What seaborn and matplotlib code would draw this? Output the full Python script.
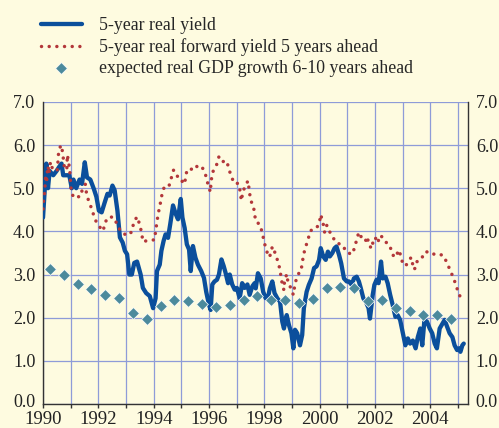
import matplotlib
matplotlib.use("Agg")
import matplotlib.pyplot as plt
import matplotlib.transforms as mtransforms
import seaborn as sns
import pandas as pd

# 5-year real yield
yield_year = [1990.00, 1990.12, 1990.18, 1990.24, 1990.37, 1990.49, 1990.59, 1990.67, 1990.73, 1990.86,
              1990.95, 1991.04, 1991.10, 1991.20, 1991.32, 1991.41, 1991.51, 1991.59, 1991.71, 1991.84,
              1991.93, 1992.02, 1992.12, 1992.23, 1992.33, 1992.41, 1992.51, 1992.59, 1992.69, 1992.78,
              1992.88, 1992.96, 1993.04, 1993.12, 1993.21, 1993.30, 1993.40, 1993.53, 1993.61, 1993.73,
              1993.86, 1993.98, 1994.07, 1994.12, 1994.22, 1994.28, 1994.36, 1994.43, 1994.52, 1994.60,
              1994.70, 1994.80, 1994.88, 1994.98, 1995.04, 1995.12, 1995.20, 1995.28, 1995.34, 1995.42,
              1995.51, 1995.60, 1995.72, 1995.82, 1995.90, 1996.00, 1996.06, 1996.12, 1996.20, 1996.29,
              1996.36, 1996.45, 1996.53, 1996.60, 1996.69, 1996.75, 1996.84, 1996.93, 1997.01, 1997.11,
              1997.20, 1997.29, 1997.39, 1997.47, 1997.57, 1997.65, 1997.69, 1997.77, 1997.87, 1997.96,
              1998.05, 1998.13, 1998.20, 1998.29, 1998.37, 1998.47, 1998.57, 1998.65, 1998.71, 1998.81,
              1998.89, 1998.98, 1999.05, 1999.11, 1999.19, 1999.29, 1999.37, 1999.43, 1999.53, 1999.61,
              1999.71, 1999.80, 1999.89, 1999.98, 2000.04, 2000.13, 2000.22, 2000.30, 2000.37, 2000.46,
              2000.54, 2000.61, 2000.70, 2000.78, 2000.88, 2000.98, 2001.06, 2001.16, 2001.24, 2001.34,
              2001.42, 2001.49, 2001.58, 2001.67, 2001.77, 2001.82, 2001.92, 2001.98, 2002.06, 2002.13,
              2002.22, 2002.28, 2002.38, 2002.46, 2002.55, 2002.64, 2002.74, 2002.82, 2002.91, 2003.01,
              2003.10, 2003.19, 2003.27, 2003.37, 2003.47, 2003.55, 2003.64, 2003.71, 2003.79, 2003.88,
              2003.98, 2004.07, 2004.16, 2004.24, 2004.34, 2004.44, 2004.52, 2004.61, 2004.70, 2004.80,
              2004.88, 2004.97, 2005.04, 2005.09, 2005.16, 2005.21]
yield_val = [4.32, 5.57, 5.00, 5.40, 5.30, 5.40, 5.50, 5.57, 5.30, 5.30,
             5.30, 5.00, 5.20, 5.00, 5.20, 5.10, 5.60, 5.25, 5.20, 4.98,
             4.80, 4.48, 4.44, 4.67, 4.87, 4.83, 5.06, 4.95, 4.48, 3.86,
             3.74, 3.55, 3.47, 3.00, 3.00, 3.27, 3.30, 3.00, 2.69, 2.57,
             2.50, 2.22, 2.45, 3.08, 3.23, 3.55, 3.78, 3.93, 3.85, 4.17,
             4.60, 4.40, 4.28, 4.75, 4.32, 4.08, 3.70, 3.58, 3.08, 3.66,
             3.39, 3.23, 3.08, 2.92, 2.60, 2.30, 2.18, 2.77, 2.84, 2.88,
             3.00, 3.35, 3.20, 3.04, 2.80, 3.00, 2.77, 2.65, 2.69, 2.45,
             2.80, 2.69, 2.77, 2.53, 2.73, 2.80, 2.68, 3.03, 2.91, 2.60,
             2.45, 2.45, 2.68, 2.84, 2.57, 2.45, 2.37, 1.91, 1.75, 2.06,
             1.83, 1.64, 1.29, 1.72, 1.64, 1.36, 1.60, 2.22, 2.60, 2.76,
             2.91, 3.15, 3.19, 3.34, 3.61, 3.42, 3.34, 3.53, 3.42, 3.50,
             3.61, 3.65, 3.46, 3.26, 2.91, 2.84, 2.84, 2.76, 2.91, 2.95,
             2.84, 2.68, 2.45, 2.37, 2.22, 1.98, 2.53, 2.76, 2.88, 2.80,
             3.30, 2.91, 2.95, 2.80, 2.53, 2.30, 2.02, 2.06, 1.95, 1.64,
             1.36, 1.52, 1.40, 1.47, 1.29, 1.55, 1.75, 1.36, 1.95, 1.91,
             1.75, 1.64, 1.40, 1.29, 1.75, 1.86, 1.95, 1.79, 1.64, 1.55,
             1.36, 1.25, 1.29, 1.21, 1.36, 1.40]

# 5-year real forward yield 5 years ahead
fwd_year = [1990.00, 1990.02, 1990.06, 1990.08, 1990.10, 1990.13, 1990.15, 1990.18, 1990.22, 1990.27,
            1990.34, 1990.43, 1990.51, 1990.54, 1990.56, 1990.64, 1990.71, 1990.74, 1990.77, 1990.86,
            1990.88, 1990.91, 1990.93, 1990.96, 1990.98, 1991.00, 1991.04, 1991.10, 1991.16, 1991.32,
            1991.44, 1991.53, 1991.57, 1991.65, 1991.77, 1991.86, 1991.98, 1992.18, 1992.23, 1992.39,
            1992.57, 1992.69, 1992.82, 1993.04, 1993.21, 1993.28, 1993.40, 1993.50, 1993.57, 1993.61,
            1993.73, 1993.92, 1994.04, 1994.07, 1994.12, 1994.16, 1994.22, 1994.28, 1994.34, 1994.40,
            1994.55, 1994.64, 1994.72, 1994.84, 1994.96, 1995.08, 1995.16, 1995.20, 1995.30, 1995.42,
            1995.52, 1995.64, 1995.76, 1995.88, 1995.96, 1996.05, 1996.08, 1996.14, 1996.27, 1996.36,
            1996.48, 1996.57, 1996.65, 1996.72, 1996.81, 1996.89, 1996.99, 1997.08, 1997.13, 1997.17,
            1997.23, 1997.35, 1997.41, 1997.49, 1997.57, 1997.61, 1997.69, 1997.84, 1997.93, 1997.99,
            1998.07, 1998.17, 1998.23, 1998.29, 1998.41, 1998.49, 1998.57, 1998.61, 1998.67, 1998.71,
            1998.73, 1998.81, 1998.86, 1998.89, 1998.98, 1999.05, 1999.10, 1999.17, 1999.25, 1999.31,
            1999.37, 1999.41, 1999.49, 1999.58, 1999.67, 1999.83, 1999.98, 2000.04, 2000.13, 2000.18,
            2000.25, 2000.30, 2000.34, 2000.46, 2000.61, 2000.82, 2000.98, 2001.18, 2001.30, 2001.34,
            2001.43, 2001.53, 2001.65, 2001.73, 2001.77, 2001.89, 2001.94, 2002.01, 2002.10, 2002.18,
            2002.28, 2002.38, 2002.46, 2002.55, 2002.62, 2002.70, 2002.76, 2002.85, 2002.95, 2003.01,
            2003.13, 2003.27, 2003.31, 2003.37, 2003.43, 2003.49, 2003.67, 2003.79, 2004.00, 2004.16,
            2004.32, 2004.48, 2004.61, 2004.74, 2004.85, 2004.95, 2005.03, 2005.13]
fwd_val = [4.52, 4.71, 4.91, 5.10, 5.31, 5.12, 5.34, 5.51, 5.34, 5.61,
           5.45, 5.43, 5.40, 5.61, 5.80, 6.00, 5.84, 5.65, 5.49, 5.42,
           5.77, 5.66, 5.57, 5.45, 5.30, 5.06, 4.87, 4.81, 4.85, 4.79,
           4.99, 5.09, 4.89, 4.70, 4.51, 4.31, 4.15, 4.01, 4.20, 4.34,
           4.32, 4.14, 3.99, 3.90, 3.99, 4.21, 4.34, 4.15, 3.95, 3.76,
           3.78, 3.79, 3.81, 4.01, 4.21, 4.40, 4.57, 4.79, 4.96, 5.04,
           5.04, 5.24, 5.42, 5.28, 5.26, 5.09, 5.22, 5.43, 5.43, 5.45,
           5.53, 5.45, 5.48, 5.30, 5.10, 4.91, 5.18, 5.38, 5.53, 5.73,
           5.61, 5.63, 5.63, 5.42, 5.30, 5.12, 5.12, 5.10, 4.91, 4.71,
           4.93, 5.10, 5.17, 4.79, 4.60, 4.57, 4.23, 4.16, 3.96, 3.77,
           3.57, 3.40, 3.47, 3.65, 3.47, 3.30, 3.11, 2.91, 2.72, 2.64,
           2.84, 3.01, 2.81, 2.80, 2.64, 2.53, 2.74, 2.93, 3.03, 3.05,
           3.24, 3.44, 3.63, 3.81, 4.02, 4.04, 4.16, 4.39, 4.17, 3.98,
           4.14, 4.12, 4.02, 3.88, 3.73, 3.69, 3.51, 3.47, 3.69, 3.84,
           3.98, 3.83, 3.77, 3.88, 3.69, 3.60, 3.81, 3.86, 3.73, 3.91,
           3.86, 3.75, 3.73, 3.65, 3.47, 3.42, 3.40, 3.57, 3.42, 3.22,
           3.22, 3.36, 3.40, 3.22, 3.11, 3.29, 3.34, 3.52, 3.53, 3.46,
           3.47, 3.44, 3.26, 3.07, 2.90, 2.72, 2.53, 2.47]

# expected real GDP growth 6-10 years ahead (semi-annual survey)
gdp_year = [1990.25, 1990.75, 1991.25, 1991.75, 1992.25, 1992.75, 1993.25, 1993.75, 1994.25, 1994.75,
            1995.25, 1995.75, 1996.25, 1996.75, 1997.25, 1997.75, 1998.25, 1998.75, 1999.25, 1999.75,
            2000.25, 2000.75, 2001.25, 2001.75, 2002.25, 2002.75, 2003.25, 2003.75, 2004.25, 2004.75]
gdp_val = [3.12, 2.98, 2.77, 2.67, 2.52, 2.46, 2.12, 1.96, 2.26, 2.40,
           2.39, 2.32, 2.25, 2.30, 2.42, 2.51, 2.40, 2.40, 2.34, 2.43,
           2.69, 2.71, 2.69, 2.39, 2.41, 2.22, 2.15, 2.07, 2.07, 1.97]

year_ticks = list(range(1990, 2006))
year_labels = [str(y) if y % 2 == 0 else "" for y in year_ticks]
val_ticks = [0, 1, 2, 3, 4, 5, 6, 7]
val_labels = ["0.0", "1.0", "2.0", "3.0", "4.0", "5.0", "6.0", "7.0"]

labels = ["5-year real yield",
          "5-year real forward yield 5 years ahead",
          "expected real GDP growth 6-10 years ahead"]

bg = "#fefbe0"
sns.set_style("white", {"axes.facecolor": bg, "figure.facecolor": bg})
plt.rcParams["font.family"] = ["Liberation Serif", "DejaVu Serif"]

fig = plt.figure(figsize=(4.99, 4.28), dpi=100)
ax = fig.add_axes([0.0862, 0.056, 0.852, 0.706])

df_y = pd.DataFrame({"year": yield_year, "val": yield_val})
df_f = pd.DataFrame({"year": fwd_year, "val": fwd_val})
df_g = pd.DataFrame({"year": gdp_year, "val": gdp_val})

sns.lineplot(data=df_y, x="year", y="val", ax=ax, color="#0b4f9c", linewidth=3.1,
             estimator=None, sort=False, label=labels[0], zorder=3)
# dotted line: round dots spaced along the path
sns.lineplot(data=df_f, x="year", y="val", ax=ax, color="#b3373a", linewidth=2.5,
             linestyle=(0, (0.01, 2.2)), dash_capstyle="round",
             estimator=None, sort=False, label=labels[1], zorder=4)
sns.scatterplot(data=df_g, x="year", y="val", ax=ax, color="#4c8a9c", marker="D", s=36,
                edgecolor="white", linewidth=0.5, label=labels[2], zorder=5)

ax.set_xlim(1990, 2005.37)
ax.set_ylim(0, 7)
ax.set_xticks(year_ticks)
ax.set_xticklabels(year_labels)
ax.set_yticks(val_ticks)
ax.set_yticklabels(val_labels)
ax.set_xlabel("")
ax.set_ylabel("")
ax.grid(True, color="#8e9bd8", linewidth=0.9)
ax.set_axisbelow(True)

for side in ["left", "right", "bottom"]:
    ax.spines[side].set_visible(True)
    ax.spines[side].set_color("#333333")
    ax.spines[side].set_linewidth(1.0)
ax.spines["top"].set_visible(False)

ax.tick_params(axis="x", bottom=True, direction="out", length=3, width=1, color="#333333",
               labelsize=13.5, pad=2, labelcolor="#222222")
ax.tick_params(axis="y", left=False, right=False, labelleft=True, labelright=True,
               labelsize=13, pad=2, labelcolor="#222222")

# the 0.0 labels sit a few pixels above the axis line, clear of the year labels
lift = mtransforms.ScaledTranslation(0, 4 / 100, fig.dpi_scale_trans)
for tick in ax.yaxis.get_major_ticks()[:1]:
    tick.label1.set_transform(tick.label1.get_transform() + lift)
    tick.label2.set_transform(tick.label2.get_transform() + lift)

handles, labs = ax.get_legend_handles_labels()
ax.get_legend().remove()
fig.legend(handles, labs, loc="upper left", bbox_to_anchor=(0.075, 0.968), frameon=False,
           fontsize=12.8, handlelength=2.3, handletextpad=0.95, labelspacing=0.22,
           borderpad=0.2, borderaxespad=0)

fig.savefig("out.png", dpi=100, facecolor=bg)
